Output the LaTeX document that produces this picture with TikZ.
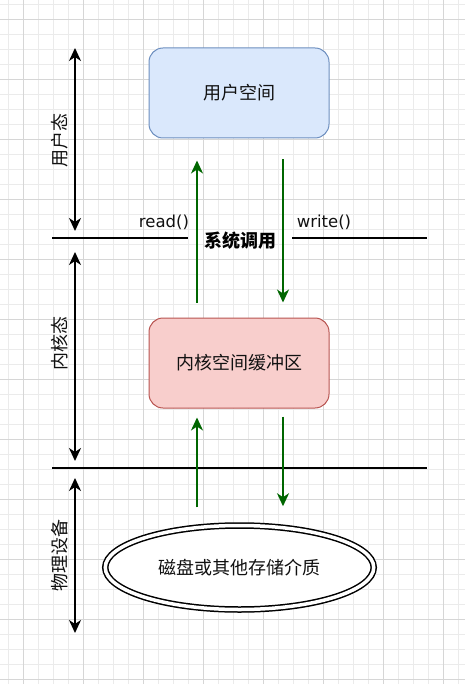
\documentclass[tikz,border=0pt]{standalone}
\usepackage{fontspec}
\newfontfamily\cjk{Noto Sans CJK SC}
\newfontfamily\lat{DejaVu Sans}
\usetikzlibrary{arrows.meta,shapes.geometric}
\definecolor{gridminor}{HTML}{EBEBEB}
\definecolor{gridmajor}{HTML}{D6D6D6}
\definecolor{bluefill}{HTML}{DAE8FC}
\definecolor{bluedraw}{HTML}{6C8EBF}
\definecolor{redfill}{HTML}{F8CECC}
\definecolor{reddraw}{HTML}{B85450}
\definecolor{darkgreen}{HTML}{006600}
\definecolor{txt}{HTML}{111111}
\tikzset{
  spacebox/.style={draw, rounded corners=14pt, line width=1pt, minimum width=180pt, minimum height=90pt, inner sep=0pt, font=\cjk\fontsize{18}{21}\selectfont, text=txt},
  storage/.style={ellipse, draw, line width=1.5pt, double, double distance=3.5pt, minimum width=268.5pt, minimum height=84pt, inner sep=0pt, font=\cjk\fontsize{18}{21}\selectfont, text=txt},
  garrow/.style={-{Stealth[length=13pt,width=12pt,inset=4pt]}, line width=1.8pt, darkgreen},
  barrow/.style={{Stealth[length=13pt,width=12pt,inset=4pt]}-{Stealth[length=13pt,width=12pt,inset=4pt]}, line width=1.8pt, black},
  sepline/.style={line width=1.4pt, black},
  statelabel/.style={rotate=90, font=\cjk\fontsize{18}{21}\selectfont, text=txt, inner sep=0pt},
  calllabel/.style={font=\lat\fontsize{16.5}{19}\selectfont, text=txt, inner sep=0pt},
}
\begin{document}
\begin{tikzpicture}[x=1pt,y=-1pt]
\useasboundingbox (0,0) rectangle (465,684);
\fill[white] (0,0) rectangle (465,684);
\foreach \i in {0,...,30} \draw[gridminor, line width=0.8pt] ({8.3+15*\i},0) -- ({8.3+15*\i},684);
\foreach \j in {0,...,45} \draw[gridminor, line width=0.8pt] (0,{4.3+15*\j}) -- (465,{4.3+15*\j});
\foreach \i in {0,...,7} \draw[gridmajor, line width=0.8pt] ({23.3+60*\i},0) -- ({23.3+60*\i},684);
\foreach \j in {0,...,11} \draw[gridmajor, line width=0.8pt] (0,{19.3+60*\j}) -- (465,{19.3+60*\j});

% boxes
\node[spacebox, fill=bluefill, draw=bluedraw] (user) at (239,93) {用户空间};
\node[spacebox, fill=redfill, draw=reddraw] (kern) at (239,363) {内核空间缓冲区};
\node[storage, fill=white] (disk) at (239.5,567.5) {磁盘或其他存储介质};

% separator lines
\coordinate (s1a) at (52,238);
\coordinate (s1b) at (188,238);
\coordinate (s1c) at (292,238);
\coordinate (s1d) at (427,238);
\coordinate (s2a) at (52,468);
\coordinate (s2b) at (427,468);
\draw[sepline] (s1a) -- (s1b);
\draw[sepline] (s1c) -- (s1d);
\draw[sepline] (s2a) -- (s2b);

% labels on the call line
\node[calllabel] (rd) at (164,222) {read()};
\node[calllabel] (wr) at (324,222) {write()};
\node[font=\cjk\bfseries\fontsize{18}{21}\selectfont, text=black, inner sep=0pt] (sys) at (240,241) {系统调用};

% state arrows
\coordinate (a1t) at (75,48);
\coordinate (a1b) at (75,231);
\coordinate (a2t) at (75,252);
\coordinate (a2b) at (75,461);
\coordinate (a3t) at (75,478);
\coordinate (a3b) at (75,633);
\draw[barrow] (a1t) -- (a1b);
\draw[barrow] (a2t) -- (a2b);
\draw[barrow] (a3t) -- (a3b);
\node[statelabel] (us) at (60,141) {用户态};
\node[statelabel] (ks) at (60,343) {内核态};
\node[statelabel] (ps) at (60,555) {物理设备};

% data flow arrows
\draw[garrow, shorten <=15pt, shorten >=22pt] ([xshift=-42pt]kern.north) -- ([xshift=-42pt]user.south);
\draw[garrow, shorten <=21pt, shorten >=15pt] ([xshift=44pt]user.south) -- ([xshift=44pt]kern.north);
\draw[garrow, shorten <=17.5pt, shorten >=9pt] ([xshift=-42.5pt]disk.north) -- ([xshift=-42pt]kern.south);
\draw[garrow, shorten <=8pt, shorten >=18.5pt] ([xshift=44pt]kern.south) -- ([xshift=43.5pt]disk.north);
\end{tikzpicture}
\end{document}
